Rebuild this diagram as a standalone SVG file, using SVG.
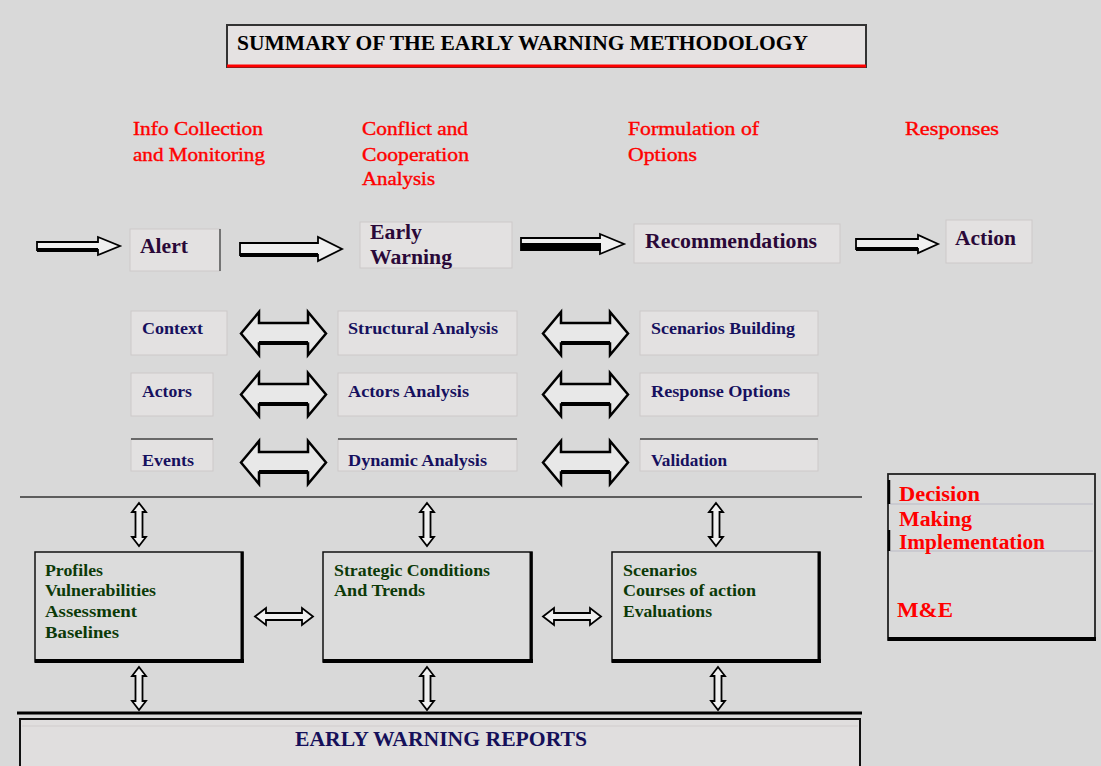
<svg xmlns="http://www.w3.org/2000/svg" xmlns:xlink="http://www.w3.org/1999/xlink" width="1101" height="766" viewBox="0 0 1101 766">
<style>
text{font-family:"Liberation Serif","Times New Roman",serif;font-weight:bold}
.head{fill:#ff0000;font-weight:normal;font-size:19.5px;stroke:#ff0000;stroke-width:0.4}
.r1{fill:#2a0838;font-size:20px}
.lbl{fill:#16105e;font-size:17px}
.grn{fill:#0c3a08;font-size:17px}
.red{fill:#ff0000;font-size:20px}
.lbox{fill:#e3e1e1;stroke:#cdc9c9;stroke-width:1}
.topline{stroke:#444;stroke-width:1.5}
.bbox{fill:#dcdcdc;stroke:#111;stroke-width:1.5}
.arr{fill:#e8e8e8;stroke:#000;stroke-width:2.5;stroke-linejoin:miter}
.sarr{fill:#f0f0f0;stroke:#000;stroke-width:1.8}
.thick{stroke:#000;stroke-width:4}
</style>
<defs>
<path id="dbl" d="M0,21.5 L18,0 L18,11 L67,11 L67,0 L85,21.5 L67,43 L67,31.5 L18,31.5 L18,43 Z"/>
<path id="vdbl" d="M0,0 L7,9 L3.5,9 L3.5,34 L7,34 L0,43 L-7,34 L-3.5,34 L-3.5,9 L-7,9 Z"/>
<path id="hdbl" d="M0,8.5 L11,0 L11,5 L47,5 L47,0 L58,8.5 L47,17 L47,12 L11,12 L11,17 Z"/>
</defs>
<rect x="0" y="0" width="1101" height="766" fill="#d9d9d9"/>

<g id="title">
<rect x="227" y="25" width="639" height="42" fill="#e5e2e2" stroke="#333" stroke-width="2"/>
<line x1="227" y1="66" x2="866" y2="66" stroke="#ff0000" stroke-width="3"/>
<text x="237" y="50" font-size="21" fill="#000" textLength="571" lengthAdjust="spacingAndGlyphs">SUMMARY OF THE EARLY WARNING METHODOLOGY</text>
</g>

<g id="headings">
<text class="head" x="133" y="135" textLength="130" lengthAdjust="spacingAndGlyphs">Info Collection</text>
<text class="head" x="133" y="161" textLength="132" lengthAdjust="spacingAndGlyphs">and Monitoring</text>
<text class="head" x="362" y="135" textLength="106" lengthAdjust="spacingAndGlyphs">Conflict and</text>
<text class="head" x="362" y="161" textLength="107" lengthAdjust="spacingAndGlyphs">Cooperation</text>
<text class="head" x="362" y="185" textLength="73" lengthAdjust="spacingAndGlyphs">Analysis</text>
<text class="head" x="628" y="135" textLength="131" lengthAdjust="spacingAndGlyphs">Formulation of</text>
<text class="head" x="628" y="161" textLength="69" lengthAdjust="spacingAndGlyphs">Options</text>
<text class="head" x="905" y="135" textLength="94" lengthAdjust="spacingAndGlyphs">Responses</text>
</g>

<g id="alert">
<rect class="lbox" x="130" y="229" width="90" height="42"/>
<line x1="220" y1="229" x2="220" y2="271" stroke="#555" stroke-width="1.5"/>
<text class="r1" x="140" y="253" textLength="48" lengthAdjust="spacingAndGlyphs">Alert</text>
</g>
<g id="early-warning">
<rect class="lbox" x="360" y="222" width="152" height="46"/>
<text class="r1" x="370" y="239" textLength="52" lengthAdjust="spacingAndGlyphs">Early</text>
<text class="r1" x="370" y="264" textLength="82" lengthAdjust="spacingAndGlyphs">Warning</text>
</g>
<g id="recommendations">
<rect class="lbox" x="634" y="224" width="206" height="39"/>
<text class="r1" x="645" y="248" textLength="172" lengthAdjust="spacingAndGlyphs">Recommendations</text>
</g>
<g id="action">
<rect class="lbox" x="946" y="220" width="86" height="43"/>
<text class="r1" x="955" y="245" textLength="61" lengthAdjust="spacingAndGlyphs">Action</text>
</g>

<g id="context"><rect class="lbox" x="131" y="311" width="96" height="44"/><text class="lbl" x="142" y="334" textLength="61" lengthAdjust="spacingAndGlyphs">Context</text></g>
<g id="structural"><rect class="lbox" x="338" y="311" width="179" height="44"/><text class="lbl" x="348" y="334" textLength="150" lengthAdjust="spacingAndGlyphs">Structural  Analysis</text></g>
<g id="scenarios-building"><rect class="lbox" x="640" y="311" width="178" height="44"/><text class="lbl" x="651" y="334" textLength="144" lengthAdjust="spacingAndGlyphs">Scenarios Building</text></g>

<g id="actors"><rect class="lbox" x="131" y="373" width="82" height="43"/><text class="lbl" x="142" y="397" textLength="50" lengthAdjust="spacingAndGlyphs">Actors</text></g>
<g id="actors-analysis"><rect class="lbox" x="338" y="373" width="179" height="43"/><text class="lbl" x="348" y="397" textLength="121" lengthAdjust="spacingAndGlyphs">Actors Analysis</text></g>
<g id="response-options"><rect class="lbox" x="640" y="373" width="178" height="43"/><text class="lbl" x="651" y="397" textLength="139" lengthAdjust="spacingAndGlyphs">Response Options</text></g>

<g id="events"><rect class="lbox" x="131" y="439" width="82" height="32"/><line class="topline" x1="131" y1="439" x2="213" y2="439"/><text class="lbl" x="142" y="466" textLength="52" lengthAdjust="spacingAndGlyphs">Events</text></g>
<g id="dynamic"><rect class="lbox" x="338" y="439" width="179" height="32"/><line class="topline" x1="338" y1="439" x2="517" y2="439"/><text class="lbl" x="348" y="466" textLength="139" lengthAdjust="spacingAndGlyphs">Dynamic Analysis</text></g>
<g id="validation"><rect class="lbox" x="640" y="439" width="178" height="32"/><line class="topline" x1="640" y1="439" x2="818" y2="439"/><text class="lbl" x="651" y="466" textLength="76" lengthAdjust="spacingAndGlyphs">Validation</text></g>

<g id="profiles">
<rect class="bbox" x="35" y="552" width="208" height="110"/>
<line class="thick" x1="35" y1="661" x2="244" y2="661"/>
<line x1="242" y1="552" x2="242" y2="662" stroke="#000" stroke-width="3"/>
<text class="grn" x="45" y="576" textLength="58" lengthAdjust="spacingAndGlyphs">Profiles</text>
<text class="grn" x="45" y="596" textLength="111" lengthAdjust="spacingAndGlyphs">Vulnerabilities</text>
<text class="grn" x="45" y="617" textLength="92" lengthAdjust="spacingAndGlyphs">Assessment</text>
<text class="grn" x="45" y="638" textLength="74" lengthAdjust="spacingAndGlyphs">Baselines</text>
</g>
<g id="strategic">
<rect class="bbox" x="323" y="552" width="209" height="110"/>
<line class="thick" x1="323" y1="661" x2="533" y2="661"/>
<line x1="531" y1="552" x2="531" y2="662" stroke="#000" stroke-width="3"/>
<text class="grn" x="334" y="576" textLength="156" lengthAdjust="spacingAndGlyphs">Strategic Conditions</text>
<text class="grn" x="334" y="596" textLength="91" lengthAdjust="spacingAndGlyphs">And Trends</text>
</g>
<g id="scenarios">
<rect class="bbox" x="612" y="552" width="208" height="110"/>
<line class="thick" x1="612" y1="661" x2="821" y2="661"/>
<line x1="819" y1="552" x2="819" y2="662" stroke="#000" stroke-width="3"/>
<text class="grn" x="623" y="576" textLength="74" lengthAdjust="spacingAndGlyphs">Scenarios</text>
<text class="grn" x="623" y="596" textLength="133" lengthAdjust="spacingAndGlyphs">Courses of action</text>
<text class="grn" x="623" y="617" textLength="89" lengthAdjust="spacingAndGlyphs">Evaluations</text>
</g>

<g id="decision">
<rect x="888" y="474" width="207" height="166" fill="#dadada" stroke="#222" stroke-width="1.8"/>
<line x1="888" y1="639" x2="1096" y2="639" stroke="#000" stroke-width="4"/>
<line x1="890" y1="504" x2="1093" y2="504" stroke="#c4c4cc" stroke-width="1.5"/>
<line x1="890" y1="551" x2="1093" y2="551" stroke="#c4c4cc" stroke-width="1.5"/>
<line x1="889" y1="480" x2="889" y2="504" stroke="#000" stroke-width="2.5"/>
<line x1="889" y1="530" x2="889" y2="551" stroke="#000" stroke-width="2.5"/>
<text class="red" x="899" y="501" textLength="81" lengthAdjust="spacingAndGlyphs">Decision</text>
<text class="red" x="899" y="526" textLength="73" lengthAdjust="spacingAndGlyphs">Making</text>
<text class="red" x="899" y="549" textLength="146" lengthAdjust="spacingAndGlyphs">Implementation</text>
<text class="red" x="897" y="617" textLength="56" lengthAdjust="spacingAndGlyphs">M&amp;E</text>
</g>

<g id="reports">
<rect x="20" y="719" width="840" height="50" fill="#e0dede" stroke="#111" stroke-width="2"/>
<line x1="22" y1="726" x2="858" y2="726" stroke="#d0cccc" stroke-width="1"/>
<text x="295" y="746" font-size="21" fill="#15105a" textLength="292" lengthAdjust="spacingAndGlyphs">EARLY WARNING REPORTS</text>
</g>

<g id="connectors">
<line x1="20" y1="497" x2="862" y2="497" stroke="#333" stroke-width="1.5"/>
<line x1="17" y1="713" x2="862" y2="713" stroke="#000" stroke-width="3"/>

<path class="sarr" d="M37,242 H98 V237 L120,246 L98,255 V250 H37 Z"/>
<line class="thick" x1="37" y1="250" x2="98" y2="250"/>
<path class="sarr" d="M240,243 H318 V237 L342,249 L318,261 V255 H240 Z"/>
<line class="thick" x1="240" y1="255" x2="318" y2="255"/>
<path class="sarr" d="M521,238 H600 V234 L624,244 L600,254 V250 H521 Z"/>
<rect x="521" y="243" width="80" height="8" fill="#000"/>
<path class="sarr" d="M856,239 H918 V235 L938,244 L918,253 V249 H856 Z"/>
<line class="thick" x1="856" y1="249" x2="918" y2="249"/>

<use href="#dbl" xlink:href="#dbl" class="arr" x="241" y="312"/>
<use href="#dbl" xlink:href="#dbl" class="arr" x="543" y="312"/>
<use href="#dbl" xlink:href="#dbl" class="arr" x="241" y="373"/>
<use href="#dbl" xlink:href="#dbl" class="arr" x="543" y="373"/>
<use href="#dbl" xlink:href="#dbl" class="arr" x="241" y="441"/>
<use href="#dbl" xlink:href="#dbl" class="arr" x="543" y="441"/>
<line class="thick" x1="259" y1="343" x2="308" y2="343"/>
<line class="thick" x1="561" y1="343" x2="610" y2="343"/>
<line class="thick" x1="259" y1="404" x2="308" y2="404"/>
<line class="thick" x1="561" y1="404" x2="610" y2="404"/>
<line class="thick" x1="259" y1="472" x2="308" y2="472"/>
<line class="thick" x1="561" y1="472" x2="610" y2="472"/>

<use href="#vdbl" xlink:href="#vdbl" class="sarr" x="139" y="503"/>
<use href="#vdbl" xlink:href="#vdbl" class="sarr" x="427" y="503"/>
<use href="#vdbl" xlink:href="#vdbl" class="sarr" x="716" y="503"/>
<use href="#vdbl" xlink:href="#vdbl" class="sarr" x="139" y="667"/>
<use href="#vdbl" xlink:href="#vdbl" class="sarr" x="427" y="667"/>
<use href="#vdbl" xlink:href="#vdbl" class="sarr" x="718" y="667"/>

<use href="#hdbl" xlink:href="#hdbl" class="sarr" x="255" y="608"/>
<use href="#hdbl" xlink:href="#hdbl" class="sarr" x="543" y="608"/>
</g>
</svg>
